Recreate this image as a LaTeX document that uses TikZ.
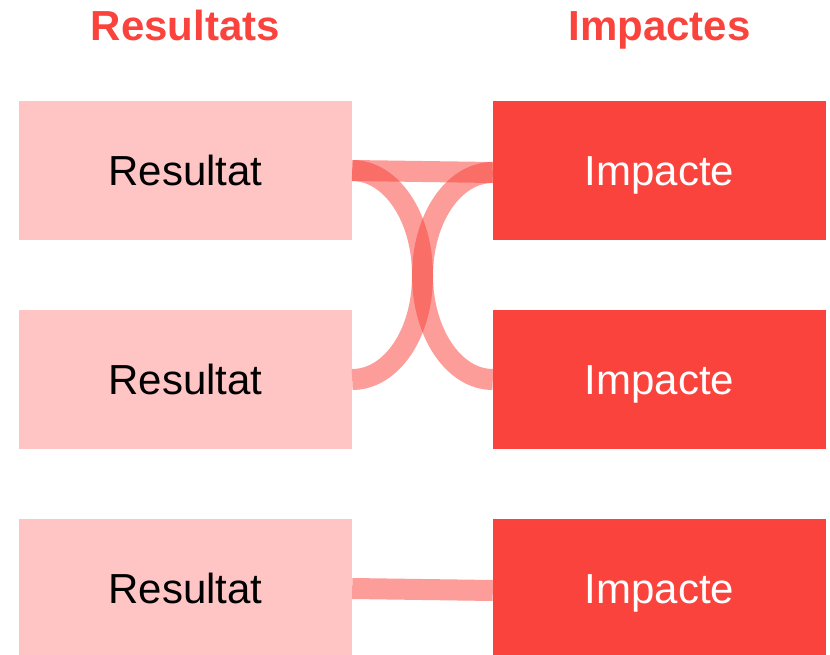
\documentclass[tikz,border=0pt]{standalone}
\usepackage{fontspec}
\setmainfont{Liberation Sans}
\usetikzlibrary{calc}
\definecolor{resfill}{RGB}{255,196,196}
\definecolor{impfill}{RGB}{249,67,60}

\begin{document}
\begin{tikzpicture}[x=1pt,y=-1pt,
    box/.style={minimum width=333pt,minimum height=139pt,inner sep=0,
      text height=30pt,text depth=0pt,font=\fontsize{42}{50}\selectfont},
    res/.style={box,fill=resfill,text=black},
    imp/.style={box,fill=impfill,text=white},
    head/.style={text=impfill,anchor=base,font=\fontsize{42}{50}\selectfont\bfseries},
    band/.style={draw=impfill,draw opacity=.52,line width=21pt}]
  \useasboundingbox (0,0) rectangle (830,655);
  \clip (0,0) rectangle (830,655);
  \node[head] (hres) at (185.5,41) {Resultats};
  \node[head] (himp) at (659.5,41) {Impactes};
  \foreach \y [count=\i] in {170.5,379.5,588.5}{
    \node[res] (r\i) at (185.5,\y) {Resultat};
    \node[imp] (p\i) at (659.5,\y) {Impacte};
  }
  \coordinate (p1in) at ([yshift=-2pt]p1.west);
  \coordinate (mida) at ($(r1.east)!.5!(p2.west)$);
  \coordinate (midb) at ($(r2.east)!.5!(p1in)$);
  % links
  \draw[band] (r1.east) -- (p1in);
  \draw[band] (r1.east) .. controls +(39,0) and +(0,-58) .. (mida)
    .. controls +(0,58) and +(-39,0) .. (p2.west);
  \draw[band] (r2.east) .. controls +(39,0) and +(0,58) .. (midb)
    .. controls +(0,-58) and +(-39,0) .. (p1in);
  \draw[band] (r3.east) -- ([yshift=-2pt]p3.west);
\end{tikzpicture}
\end{document}
